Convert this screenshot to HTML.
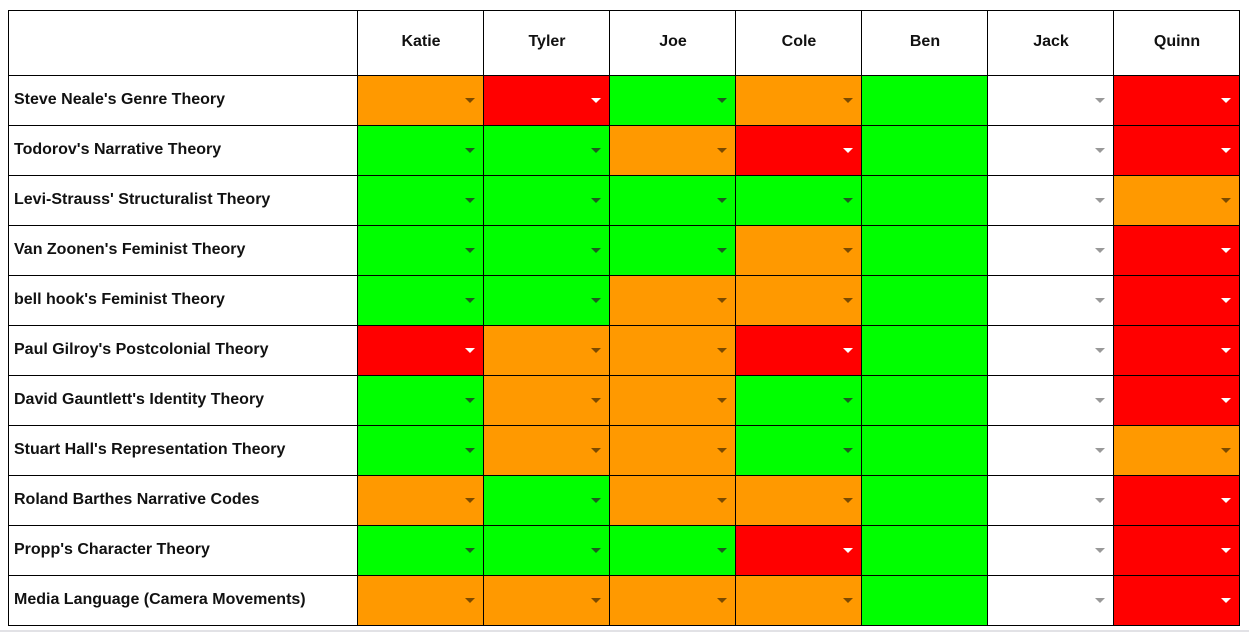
<!DOCTYPE html>
<html><head><meta charset="utf-8"><style>
body{margin:0;background:#fff;width:1249px;height:635px;overflow:hidden;position:relative;font-family:"Liberation Sans",Arial,sans-serif;}
.c{position:absolute;box-sizing:border-box;border:1px solid #000;}
.t{position:absolute;font-weight:bold;font-size:16px;color:#111;white-space:nowrap;}
.a{position:absolute;width:0;height:0;border-left:5px solid transparent;border-right:5px solid transparent;border-top:5px solid #5a3a00;}
#bottom{position:absolute;left:0;top:630px;width:1249px;height:2px;background:#e2e2e6;}
</style></head><body>
<div id="grid"></div>
<div id="bottom"></div>
<script>
const students=["Katie","Tyler","Joe","Cole","Ben","Jack","Quinn"];
const theories=["Steve Neale's Genre Theory","Todorov's Narrative Theory","Levi-Strauss' Structuralist Theory","Van Zoonen's Feminist Theory","bell hook's Feminist Theory","Paul Gilroy's Postcolonial Theory","David Gauntlett's Identity Theory","Stuart Hall's Representation Theory","Roland Barthes Narrative Codes","Propp's Character Theory","Media Language (Camera Movements)"];
const ratings=["ORGOGWR","GGORGWR","GGGGGWO","GGGOGWR","GGOOGWR","ROORGWR","GOOGGWR","GOOGGWO","OGOOGWR","GGGRGWR","OOOOGWR"];
const colX=[8,357,483,609,735,861,987,1113,1239];
const top0=10,headH=65,rowH=50;
const fill={G:"#00ff00",O:"#ff9900",R:"#ff0000",W:"#ffffff"};
const arrow={G:"#1e5a1e",O:"#7a4a00",R:"#ffffff",W:"#999999"};
const g=document.getElementById('grid');
function cell(x,y,w,h,bg){const d=document.createElement('div');d.className='c';d.style.left=x+'px';d.style.top=y+'px';d.style.width=(w+1)+'px';d.style.height=(h+1)+'px';d.style.background=bg;g.appendChild(d);return d;}
const corner=cell(colX[0],top0,colX[1]-colX[0],headH,'#fff');


students.forEach((s,i)=>{
 const x=colX[i+1],w=colX[i+2]-x;
 const d=cell(x,top0,w,headH,'#fff');
 
 
 const t=document.createElement('div');t.className='t';t.textContent=s;t.style.left='0';t.style.width=w+'px';t.style.textAlign='center';t.style.top='22px';d.appendChild(t);
});
theories.forEach((th,r)=>{
 const y=top0+headH+r*rowH;
 const l=cell(colX[0],y,colX[1]-colX[0],rowH,'#fff');
 
 
 const t=document.createElement('div');t.className='t';t.textContent=th;t.style.left='5px';t.style.top='15px';l.appendChild(t);
 students.forEach((s,i)=>{
  const k=ratings[r][i];
  const x=colX[i+1],w=colX[i+2]-x;
  const d=cell(x,y,w,rowH,fill[k]);
  
  
  if(s!=="Ben"){
   const a=document.createElement('div');a.className='a';a.style.left=(w-19)+'px';a.style.top='22px';a.style.borderTopColor=arrow[k];
   
   
   d.appendChild(a);
  }
 });
});
</script>
</body></html>
